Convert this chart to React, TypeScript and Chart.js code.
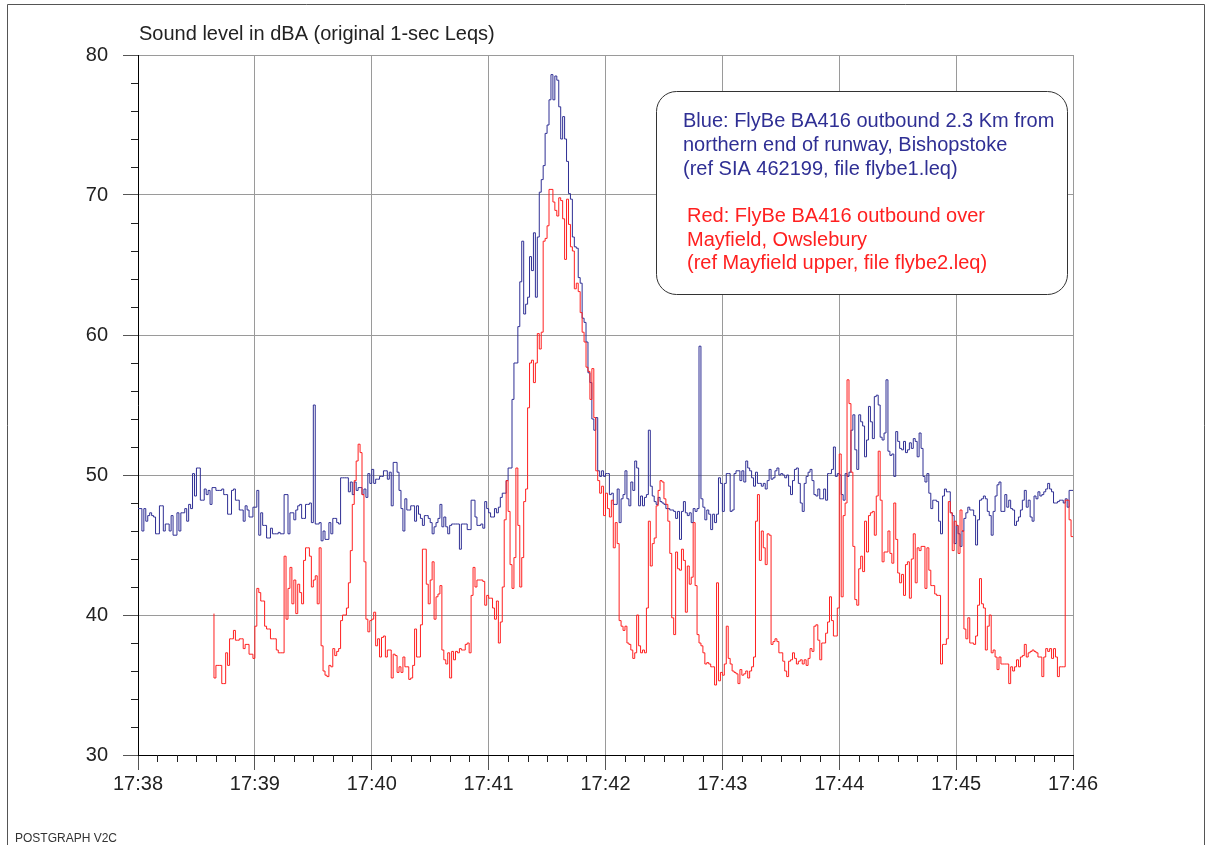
import React, { useEffect, useRef } from 'react';
import { Chart, registerables } from 'chart.js';

Chart.register(...registerables);

// ---------- data ----------
const TIME_LABELS = ['17:38', '17:39', '17:40', '17:41', '17:42', '17:43', '17:44', '17:45', '17:46'];
const SECONDS_PER_LABEL = 60;
const MINOR_SECONDS_STEP = 10;
const DBA_MIN = 30;
const DBA_MAX = 80;
const DBA_STEP = 10;
const MINOR_DBA_STEP = 2;

const CHART_TITLE = 'Sound level in dBA (original 1-sec Leqs)';
const BLUE_NOTE = [
  'Blue: FlyBe BA416 outbound 2.3 Km from',
  'northern end of runway, Bishopstoke',
  '(ref SIA 462199, file flybe1.leq)',
];
const RED_NOTE = [
  'Red: FlyBe BA416 outbound over',
  'Mayfield, Owslebury',
  '(ref Mayfield upper, file flybe2.leq)',
];
const FOOTER = 'POSTGRAPH V2C';

// 1-second Leqs, seconds after 17:38:00
const BLUE_START_SECOND = 0;
const BLUE_DBA = [
  47.6, 47.6, 47.6, 46.0, 47.6, 46.7, 47.1, 47.3, 47.1, 47.0,
  45.8, 45.8, 47.8, 47.8, 46.0, 46.5, 46.5, 46.0, 47.1, 45.7,
  45.7, 47.3, 46.0, 47.3, 47.3, 47.6, 46.7, 47.9, 47.6, 50.1,
  48.5, 50.5, 50.5, 48.2, 48.2, 49.0, 48.6, 48.9, 47.9, 49.1,
  49.1, 48.9, 48.9, 48.9, 49.0, 48.6, 48.6, 47.2, 47.2, 48.9,
  49.0, 48.2, 48.2, 47.5, 47.5, 46.7, 47.8, 47.5, 47.0, 47.0,
  47.7, 47.7, 48.9, 45.7, 47.3, 46.4, 46.4, 45.5, 45.5, 46.2,
  45.8, 45.8, 45.8, 45.9, 45.8, 45.8, 48.6, 48.6, 45.8, 47.3,
  47.3, 46.8, 47.5, 47.8, 47.9, 46.9, 46.9, 47.9, 47.9,
  48.0, 46.6, 55.0, 46.5, 46.5, 46.6, 45.3, 46.0, 45.4, 45.4,
  46.6, 45.8, 46.9, 46.9, 46.6, 46.5, 49.8, 49.8, 49.8, 49.8,
  48.8, 49.5, 48.6, 49.5, 48.9, 49.1, 49.1, 48.6, 49.0, 48.4,
  50.1, 49.4, 50.4, 49.4, 49.7, 49.7, 49.9, 49.9, 50.3, 50.3,
  49.7, 50.2, 47.8, 50.9, 50.9, 50.2, 48.9, 47.6, 46.0, 48.3,
  47.5, 47.5, 47.8, 47.8, 46.7, 47.8, 47.2, 46.9, 46.4, 47.1,
  47.1, 46.9, 46.6, 45.8, 46.3, 46.6, 46.9, 47.9, 46.3, 47.0,
  46.3, 45.8, 46.4, 46.5, 46.5, 46.5, 46.5, 44.7, 46.5, 46.5,
  46.5, 46.1, 46.1, 48.2, 48.2, 47.0, 46.4,
  46.4, 46.5, 46.2, 48.1, 47.6, 47.3, 47.0, 47.0, 47.6, 47.3,
  47.7, 48.4, 48.7, 48.7, 49.6, 50.5, 50.5, 55.4, 58.0, 58.0,
  60.6, 63.8, 66.7, 61.5, 62.2, 62.7, 65.6, 64.6, 67.3, 62.7,
  67.0, 70.2, 71.1, 72.1, 74.4, 75.0, 76.8, 78.6, 76.8, 78.5,
  78.2, 76.3, 74.0, 75.6, 74.0, 72.4, 70.1, 69.7, 67.0, 66.3,
  66.2, 64.1, 63.7, 61.2, 60.9, 59.5, 57.3, 56.6, 54.0, 53.2,
  54.1, 50.3, 49.9, 50.3, 49.9, 50.1, 50.1,
  48.6, 48.7, 47.9, 47.9, 49.0, 46.6, 48.3, 48.6, 50.3, 48.3,
  47.8, 49.5, 48.9, 51.0, 50.5, 47.8, 48.5, 47.8, 48.4, 48.6,
  53.2, 49.2, 48.5, 48.1, 47.9, 48.4, 48.1, 48.0, 47.9, 47.6,
  47.6, 47.5, 47.5, 47.4, 46.9, 47.4, 45.4, 47.4, 48.1, 47.3,
  47.1, 47.3, 46.6, 47.6, 47.4, 47.6, 59.2, 48.3, 47.7, 46.8,
  47.5, 47.2, 46.1, 47.2, 46.6, 47.2, 49.8, 49.4, 47.4, 49.4,
  50.1, 50.1, 47.4, 47.5, 50.1, 50.3, 50.3, 49.6, 50.3, 49.5,
  51.0, 50.5, 50.3, 49.8, 49.2, 50.2, 49.4, 49.4, 49.2, 49.4,
  49.0, 49.6, 50.4, 49.7, 49.8, 50.3,
  50.5, 50.0, 50.1, 50.0, 49.8, 50.0, 49.2, 48.6, 49.6, 50.4,
  50.5, 49.4, 48.0, 47.4, 49.4, 49.9, 50.2, 50.4, 49.6, 48.6,
  48.5, 49.0, 48.3, 48.3, 49.0, 48.2, 50.1, 50.1, 50.4, 52.0,
  49.9, 50.1, 50.0, 48.6, 48.2, 50.1, 49.9, 50.2, 53.2, 54.3,
  51.8, 50.4, 54.3, 53.8, 53.5, 51.3, 52.5, 54.9, 53.8, 52.6,
  55.6, 55.7, 55.0, 52.7, 52.5, 53.0, 56.8, 51.7, 51.4, 51.5,
  49.9, 53.1, 52.4, 51.9, 51.8, 52.4, 51.6, 51.8, 52.3, 51.9,
  52.6, 52.4, 51.3, 53.0, 51.9, 49.9, 49.5, 50.1, 48.7, 47.6,
  48.2, 48.2, 48.1, 46.7, 45.8, 48.5, 49.0, 48.8,
  48.8, 47.3, 47.1, 45.1, 46.4, 45.8, 44.9, 46.0, 46.9, 47.3,
  47.7, 47.5, 47.5, 47.1, 45.0, 46.8, 48.2, 48.3, 48.5, 48.3,
  47.4, 47.1, 45.7, 47.4, 48.5, 49.3, 49.5, 47.4, 47.4, 48.6,
  47.7, 48.2, 47.6, 47.5, 46.4, 46.7, 47.0, 47.5, 48.2, 48.9,
  47.7, 48.2, 47.0, 46.7, 48.5, 48.3, 48.8, 48.5, 48.6, 48.8,
  49.0, 49.4, 49.0, 48.8, 48.0, 48.0, 48.1, 48.2, 48.2, 48.0,
  48.3, 47.7, 48.9, 48.9,
];

const RED_START_SECOND = 39;
const RED_DBA = [
  40.1, 35.5, 36.4, 36.4, 36.4, 35.1, 35.1, 37.3, 36.4, 38.3,
  38.3, 38.9, 38.2, 38.2, 38.3, 38.3, 37.6, 37.9, 37.9, 37.2,
  37.2, 36.9, 39.2, 41.9, 41.6, 41.0, 41.0, 39.2, 39.0, 39.0,
  38.3, 38.3, 38.3, 37.5, 37.3, 37.3, 37.3, 44.2, 39.7, 41.9,
  43.4, 40.8, 42.5, 40.1, 42.2, 41.6, 40.8, 43.9, 44.8, 44.8,
  44.2, 42.0, 42.5, 42.8, 40.8, 44.8, 37.8, 36.0, 35.7, 35.6,
  36.4, 36.3, 37.6, 37.1, 37.4, 37.6, 39.6, 40.0, 40.0, 40.5,
  42.3, 44.6, 47.9, 49.6, 51.0, 52.2, 51.6, 48.6, 43.8, 39.7,
  38.8, 39.6, 39.7, 40.2, 37.8, 38.3, 37.0, 38.4, 38.5, 37.0,
  37.5, 37.5, 35.5, 37.2, 37.1, 35.9, 36.3, 35.9, 37.0, 36.3,
  36.3, 35.4, 35.5, 36.4, 39.0, 37.0, 37.0, 39.3, 44.7, 44.7,
  42.2, 40.8, 42.5, 43.8, 39.7, 41.3, 41.5, 42.1, 37.5, 36.8,
  36.5, 37.3, 35.5, 37.4, 36.8, 37.4, 37.3, 37.6, 37.5, 37.5,
  37.9, 38.0, 37.3, 41.4, 43.4, 42.0, 42.5,
  42.5, 42.5, 42.4, 40.7, 41.4, 41.2, 41.2, 40.5, 39.7, 41.0,
  38.0, 39.5, 42.0, 46.8, 49.6, 47.4, 43.6, 41.9, 44.1, 50.5,
  46.4, 42.0, 44.1, 48.1, 49.0, 54.8, 58.0, 58.2, 56.6, 58.0,
  60.1, 59.0, 60.2, 66.7, 66.9, 67.8, 70.4, 70.4, 69.5, 68.9,
  68.5, 69.8, 69.6, 68.3, 65.4, 69.7, 67.9, 66.3, 66.0, 63.3,
  63.7, 63.1, 61.6, 60.2, 59.5, 57.7, 57.4, 55.4, 57.6, 54.1,
  50.3, 49.6, 48.7, 49.2, 47.1, 48.7, 47.6,
  47.0, 48.2, 44.8, 46.6, 45.1, 39.6, 39.2, 38.9, 39.2, 38.0,
  37.9, 37.5, 36.9, 37.3, 40.0, 37.8, 37.3, 37.5, 37.3, 40.5,
  46.7, 43.5, 45.1, 45.5, 47.8, 48.9, 49.6, 49.5, 48.3, 47.9,
  46.7, 44.4, 39.8, 38.6, 44.5, 43.3, 43.2, 44.7, 43.9, 40.2,
  43.5, 42.2, 42.7, 46.6, 42.1, 38.6, 38.0, 37.8, 37.3, 36.5,
  36.6, 36.5, 36.3, 36.3, 35.0, 42.3, 35.3, 35.9, 35.7, 36.5,
  39.2, 36.9, 36.5, 36.0, 35.9, 35.8, 35.1, 36.1, 35.7, 35.8,
  36.0, 35.5, 36.0, 36.3, 37.0, 46.7, 48.6, 43.9, 46.0, 44.8,
  43.6, 45.8, 45.7, 37.9, 38.1, 38.3,
  38.1, 37.3, 37.3, 36.7, 36.0, 35.6, 36.7, 36.8, 37.3, 36.9,
  36.5, 36.7, 36.8, 36.5, 36.8, 36.4, 36.9, 37.6, 37.4, 39.2,
  39.3, 38.2, 36.8, 38.0, 38.0, 38.7, 39.5, 41.3, 39.6, 38.5,
  38.5, 40.5, 51.5, 41.3, 47.1, 48.0, 56.8, 55.1, 50.2, 44.9,
  41.1, 40.7, 43.3, 44.2, 43.1, 46.7, 44.5, 47.1, 47.3, 47.4,
  45.7, 48.5, 51.7, 48.2, 43.8, 44.5, 44.5, 46.0, 44.4, 43.7,
  48.0, 45.4, 43.0, 42.3, 42.9, 41.4, 43.6, 43.8, 41.2, 44.0,
  45.8, 42.3, 44.8, 44.6, 44.9, 44.9, 41.9, 44.8, 43.2, 42.1,
  42.1, 41.5, 41.4, 41.4, 36.5, 37.9, 37.9, 38.3,
  48.1, 47.3, 44.6, 46.7, 46.4, 44.4, 47.5, 46.0, 39.0, 38.3,
  39.8, 38.0, 38.0, 37.9, 38.5, 40.7, 42.6, 40.8, 40.5, 37.5,
  39.2, 40.0, 37.3, 37.5, 37.0, 36.1, 37.0, 36.5, 36.5, 36.5,
  36.5, 35.1, 36.3, 36.0, 36.3, 36.8, 36.3, 37.0, 37.1, 37.9,
  37.0, 37.3, 37.4, 37.5, 37.4, 37.3, 37.0, 37.0, 35.6, 37.0,
  37.6, 37.4, 37.6, 36.9, 37.6, 37.0, 35.6, 36.3, 36.3, 36.3,
  48.2, 48.2, 46.8, 45.6,
];

// ---------- styles ----------
const W = 1210;
const H = 845;
const FONT = '"Liberation Sans", Arial, Helvetica, sans-serif';
const BLUE = '#2f2f94';
const RED = '#ff2020';
const TEXT = '#222222';
const GRID = '#9a9a9a';

const decorPlugin = {
  id: 'decor',
  beforeDraw(chart: any) {
    const { ctx } = chart;
    ctx.save();
    ctx.fillStyle = '#ffffff';
    ctx.fillRect(0, 0, chart.width, chart.height);
    ctx.restore();
  },
  afterDraw(chart: any) {
    const { ctx, chartArea } = chart;
    const xs = chart.scales.x;
    const ys = chart.scales.y;
    ctx.save();

    // outer frame
    ctx.strokeStyle = '#555555';
    ctx.lineWidth = 1;
    ctx.beginPath();
    ctx.moveTo(7.5, H + 2);
    ctx.lineTo(7.5, 4.5);
    ctx.lineTo(1204.5, 4.5);
    ctx.lineTo(1204.5, H + 2);
    ctx.stroke();

    // minor ticks
    ctx.strokeStyle = '#222222';
    ctx.beginPath();
    for (let v = DBA_MIN; v <= DBA_MAX; v += MINOR_DBA_STEP) {
      if (v % DBA_STEP === 0) continue;
      const py = Math.round(ys.getPixelForValue(v)) + 0.5;
      ctx.moveTo(chartArea.left - 7, py);
      ctx.lineTo(chartArea.left, py);
    }
    const maxSec = (TIME_LABELS.length - 1) * SECONDS_PER_LABEL;
    for (let s = 0; s <= maxSec; s += MINOR_SECONDS_STEP) {
      if (s % SECONDS_PER_LABEL === 0) continue;
      const px = Math.round(xs.getPixelForValue(s)) + 0.5;
      ctx.moveTo(px, chartArea.bottom);
      ctx.lineTo(px, chartArea.bottom + 7);
    }
    ctx.stroke();

    // title
    ctx.fillStyle = TEXT;
    ctx.font = `20px ${FONT}`;
    ctx.textAlign = 'left';
    ctx.textBaseline = 'alphabetic';
    ctx.fillText(CHART_TITLE, chartArea.left + 1, 40);

    // annotation box
    const bx = 656.5, by = 91.5, bw = 411, bh = 203, r = 20;
    ctx.beginPath();
    ctx.moveTo(bx + r, by);
    ctx.lineTo(bx + bw - r, by);
    ctx.arcTo(bx + bw, by, bx + bw, by + r, r);
    ctx.lineTo(bx + bw, by + bh - r);
    ctx.arcTo(bx + bw, by + bh, bx + bw - r, by + bh, r);
    ctx.lineTo(bx + r, by + bh);
    ctx.arcTo(bx, by + bh, bx, by + bh - r, r);
    ctx.lineTo(bx, by + r);
    ctx.arcTo(bx, by, bx + r, by, r);
    ctx.closePath();
    ctx.fillStyle = '#ffffff';
    ctx.fill();
    ctx.strokeStyle = '#333333';
    ctx.lineWidth = 1;
    ctx.stroke();

    ctx.font = `20px ${FONT}`;
    ctx.fillStyle = BLUE;
    BLUE_NOTE.forEach((line, i) => ctx.fillText(line, 683, 127 + i * 24));
    ctx.fillStyle = RED;
    RED_NOTE.forEach((line, i) => ctx.fillText(line, 687, 222 + i * 23.5));

    // footer
    ctx.fillStyle = '#333333';
    ctx.font = `12px ${FONT}`;
    ctx.fillText(FOOTER, 15, 842);

    ctx.restore();
  },
};

export default function App() {
  const canvasRef = useRef<HTMLCanvasElement | null>(null);

  useEffect(() => {
    const canvas = canvasRef.current;
    if (!canvas) return;
    const blueData = BLUE_DBA.map((y, i) => ({ x: BLUE_START_SECOND + i, y }));
    const redData = RED_DBA.map((y, i) => ({ x: RED_START_SECOND + i, y }));
    const maxSec = (TIME_LABELS.length - 1) * SECONDS_PER_LABEL;

    const chart = new Chart(canvas, {
      type: 'line',
      data: {
        datasets: [
          {
            label: 'Red',
            data: redData,
            borderColor: RED,
            borderWidth: 1,
            pointRadius: 0,
            stepped: 'after',
            fill: false,
            order: 0,
          },
          {
            label: 'Blue',
            data: blueData,
            borderColor: BLUE,
            borderWidth: 1,
            pointRadius: 0,
            stepped: 'after',
            fill: false,
            order: 1,
          },
        ],
      },
      options: {
        responsive: false,
        animation: false,
        devicePixelRatio: 1,
        events: [],
        layout: { padding: { left: 0, right: 137, top: 55, bottom: 0 } },
        plugins: {
          legend: { display: false },
          tooltip: { enabled: false },
          title: { display: false },
        },
        scales: {
          x: {
            type: 'linear',
            min: 0,
            max: maxSec,
            ticks: {
              stepSize: SECONDS_PER_LABEL,
              autoSkip: false,
              maxRotation: 0,
              padding: 2,
              color: TEXT,
              font: { family: FONT, size: 20 },
              callback: (v: any) => TIME_LABELS[Math.round(Number(v) / SECONDS_PER_LABEL)] ?? '',
            },
            grid: { color: GRID, lineWidth: 1, drawTicks: true, tickLength: 15, tickColor: '#555555' },
            border: { display: true, color: '#000000', width: 1 },
            afterFit: (s: any) => { s.height = 90; },
          },
          y: {
            type: 'linear',
            min: DBA_MIN,
            max: DBA_MAX,
            ticks: {
              stepSize: DBA_STEP,
              padding: 15,
              color: TEXT,
              font: { family: FONT, size: 20 },
            },
            grid: { color: GRID, lineWidth: 1, drawTicks: true, tickLength: 15, tickColor: '#555555' },
            border: { display: true, color: '#000000', width: 1 },
            afterFit: (s: any) => { s.width = 138; },
          },
        },
      },
      plugins: [decorPlugin],
    } as any);

    return () => chart.destroy();
  }, []);

  return (
    <div style={{ position: 'fixed', left: 0, top: 0, width: W, height: H, background: '#fff' }}>
      <canvas ref={canvasRef} width={W} height={H} style={{ display: 'block', width: W, height: H }} />
    </div>
  );
}
